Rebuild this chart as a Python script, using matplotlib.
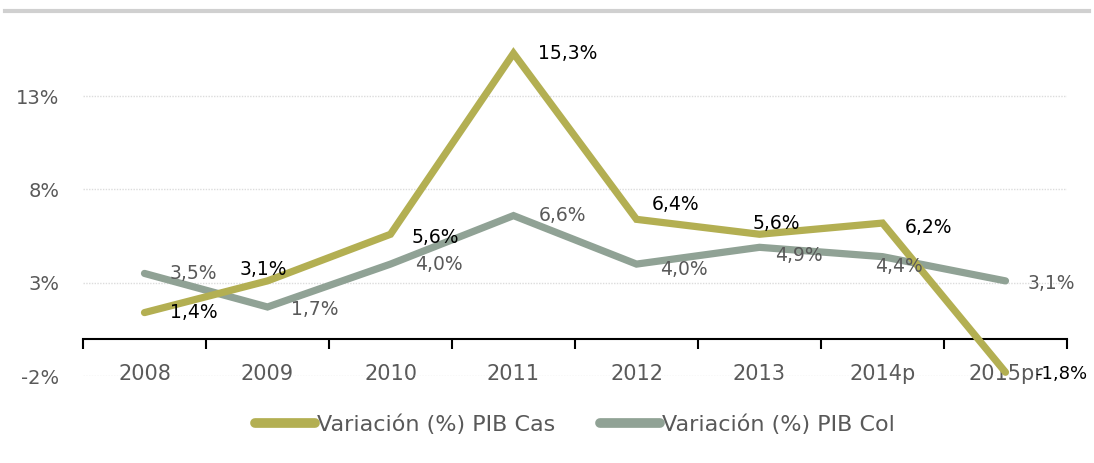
import numpy as np
import matplotlib.pyplot as plt
from matplotlib.lines import Line2D

# Data
years = ["2008", "2009", "2010", "2011", "2012", "2013", "2014p", "2015pr"]
pib_cas = [1.4, 3.1, 5.6, 15.3, 6.4, 5.6, 6.2, -1.8]
pib_col = [3.5, 1.7, 4.0, 6.6, 4.0, 4.9, 4.4, 3.1]
y_ticks = [-2, 3, 8, 13]
y_tick_labels = ["-2%", "3%", "8%", "13%"]

color_cas = '#B3AF52'
color_col = '#90A295'
grey_text = '#595959'

plt.rcParams['font.family'] = ['DejaVu Sans']

fig = plt.figure(figsize=(10.94, 4.63), dpi=100)
ax = fig.add_axes([83 / 1094, 87 / 463, (1067 - 83) / 1094, 373 / 463])

x = np.arange(len(years))
ax.plot(x, pib_cas, color=color_cas, lw=5.2, solid_capstyle='round', solid_joinstyle='miter',
        label="Variación (%) PIB Cas", zorder=3)
ax.plot(x, pib_col, color=color_col, lw=5.2, solid_capstyle='round', solid_joinstyle='miter',
        label="Variación (%) PIB Col", zorder=2)

def fmt(v):
    return ("%.1f%%" % v).replace(".", ",")

# label offsets in points (dx, dy)
cas_off = [(18, 0), (-20, 8), (15, -2), (18, 0), (11, 11), (-5, 8), (16, -3), (21, -1)]
col_off = [(18, 0), (17, -2), (18, 0), (18, 0), (17, -4), (11, -6), (-5, -7), (16, -2)]
cas_size = [13.5] * 7 + [13]

for i, v in enumerate(pib_cas):
    ax.annotate(fmt(v), (x[i], v), xytext=cas_off[i], textcoords='offset points',
                ha='left', va='center', fontsize=cas_size[i], color='black', zorder=5)
for i, v in enumerate(pib_col):
    ax.annotate(fmt(v), (x[i], v), xytext=col_off[i], textcoords='offset points',
                ha='left', va='center', fontsize=13.5, color=grey_text, zorder=5)

ax.set_xlim(-0.5, len(years) - 0.5)
ax.set_ylim(-2, 18)
ax.set_yticks(y_ticks)
ax.set_yticklabels(y_tick_labels, fontsize=14, color=grey_text)
ax.tick_params(axis='y', length=0, pad=17)
ax.grid(axis='y', color='#dcdcdc', linestyle=(0, (1, 1)), lw=1)

# x axis at zero, ticks at category borders, labels low
for s in ['top', 'right', 'left']:
    ax.spines[s].set_visible(False)
ax.spines['bottom'].set_position(('data', 0))
ax.spines['bottom'].set_linewidth(1.5)
ax.set_xticks(np.arange(-0.5, len(years), 1))
ax.set_xticklabels([])
ax.tick_params(axis='x', which='major', direction='out', length=7, width=1.5)
ax.set_xticks(x, minor=True)
ax.set_xticklabels(years, minor=True, fontsize=15, color=grey_text)
ax.tick_params(axis='x', which='minor', length=0, pad=18)

leg = ax.legend(loc='center', bbox_to_anchor=(0.5, -0.13), ncol=2, frameon=False,
                fontsize=16, labelcolor=grey_text, handlelength=2.7, handletextpad=0.1,
                columnspacing=2.0)
for h in leg.get_lines():
    h.set_linewidth(7)

# top shadow line
fig.add_artist(Line2D([0.005, 0.995], [0.976, 0.976], transform=fig.transFigure,
                      color='#d0d0d0', lw=3))

fig.savefig("out.png", dpi=100)
